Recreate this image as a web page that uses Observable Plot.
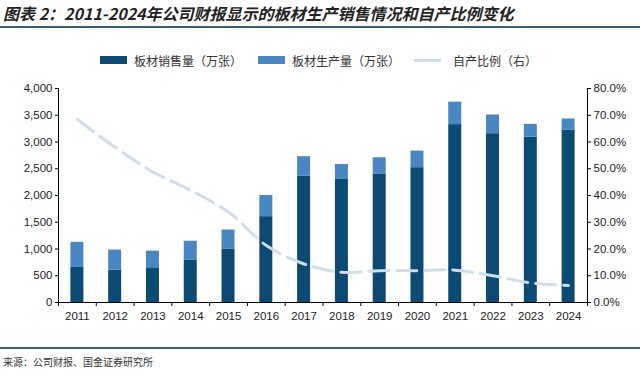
<!DOCTYPE html>
<html>
<head>
<meta charset="utf-8">
<script src="https://cdn.jsdelivr.net/npm/d3@7"></script>
<script src="https://cdn.jsdelivr.net/npm/@observablehq/plot@0.6"></script>
<style>
  html, body { margin: 0; padding: 0; background: #fff; }
  #wrap { position: relative; width: 640px; height: 379px; overflow: hidden; font-family: "Noto Sans CJK SC", sans-serif; }
  #title { position: absolute; left: 3px; top: 1px; font-size: 16px; font-weight: bold; font-style: italic; color: #222; white-space: nowrap; }
  .hr { position: absolute; left: 0; width: 640px; height: 1.5px; background: #3f5d70; }
  #legend { position: absolute; top: 51px; left: 0; width: 640px; height: 18px; font-size: 12px; color: #333; }
  .li { position: absolute; top: 0; display: flex; align-items: center; height: 18px; white-space: nowrap; }
  .sw { width: 27px; height: 8px; margin-right: 7px; }
  .ln { width: 27px; height: 3px; margin-right: 12px; background: #cfdded; }
  #chart { position: absolute; left: 0; top: 80px; }
  #source { position: absolute; left: 3px; top: 354px; font-size: 10px; color: #333; white-space: nowrap; }
</style>
</head>
<body>
<div id="wrap">
  <div id="title">图表 2：2011-2024年公司财报显示的板材生产销售情况和自产比例变化</div>
  <div class="hr" style="top:26px"></div>
  <div id="legend"></div>
  <div id="chart"></div>
  <div class="hr" style="top:347px"></div>
  <div id="source">来源：公司财报、国金证券研究所</div>
</div>
<script>
const years = [2011, 2012, 2013, 2014, 2015, 2016, 2017, 2018, 2019, 2020, 2021, 2022, 2023, 2024];
const sales = [655, 605, 635, 795, 1000, 1605, 2360, 2300, 2395, 2520, 3325, 3155, 3090, 3220];
const production = [470, 375, 325, 350, 355, 395, 365, 280, 310, 310, 420, 350, 240, 210];
const ratio = [68.4, 58.0, 48.8, 41.9, 33.8, 21.3, 14.4, 11.3, 11.9, 11.9, 12.1, 10.0, 7.3, 6.4];
const leftTicks = [0, 500, 1000, 1500, 2000, 2500, 3000, 3500, 4000];
const rightTicks = [0, 10, 20, 30, 40, 50, 60, 70, 80];
const seriesNames = ["板材销售量（万张）", "板材生产量（万张）", "自产比例（右）"];

const darkColor = "#0c4a73";
const lightColor = "#4a86c2";
const lineColor = "#cfdded";
const scaleK = 4000 / 80; // right axis (%) -> left axis units

const data = years.map((y, i) => ({year: y, sales: sales[i], production: production[i], ratio: ratio[i]}));
const half = 0.172;
const boundaries = years.map(y => y - 0.5).concat([years[years.length - 1] + 0.5]);

const chart = Plot.plot({
  width: 640,
  height: 250,
  marginLeft: 58,
  marginRight: 53,
  marginTop: 8,
  marginBottom: 28,
  style: {fontFamily: "'Liberation Sans', Arial, sans-serif", fontSize: "11.5px", color: "#222", background: "transparent"},
  x: {domain: [years[0] - 0.5, years[years.length - 1] + 0.5]},
  y: {domain: [0, 4000]},
  marks: [
    Plot.rectY(data, {x1: d => d.year - half, x2: d => d.year + half, y1: 0, y2: "sales", fill: darkColor}),
    Plot.rectY(data, {x1: d => d.year - half, x2: d => d.year + half, y1: "sales", y2: d => d.sales + d.production, fill: lightColor}),
    Plot.line(data, {x: "year", y: d => d.ratio * scaleK, curve: "catmull-rom", stroke: lineColor, strokeWidth: 3, strokeDasharray: "20,8"}),
    Plot.ruleX([years[0] - 0.5], {stroke: "#000", strokeWidth: 1}),
    Plot.ruleX([years[years.length - 1] + 0.5], {stroke: "#000", strokeWidth: 1}),
    Plot.ruleY([0], {stroke: "#000", strokeWidth: 1}),
    Plot.axisY({ticks: leftTicks, tickSize: 3, tickPadding: 3, tickFormat: d3.format(","), label: null, stroke: "#000"}),
    Plot.axisY({anchor: "right", ticks: rightTicks.map(v => v * scaleK), tickSize: 3, tickPadding: 3, tickFormat: d => (d / scaleK).toFixed(1) + "%", label: null, stroke: "#000"}),
    Plot.axisX({ticks: boundaries, tickSize: 4, tickFormat: () => "", label: null, stroke: "#000"}),
    Plot.axisX({ticks: years, tickSize: 0, tickPadding: 9, tickFormat: d => String(d), label: null})
  ]
});
document.getElementById("chart").appendChild(chart);

const legend = document.getElementById("legend");
const items = [
  {left: 100, type: "sw", color: darkColor, text: seriesNames[0]},
  {left: 258, type: "sw", color: lightColor, text: seriesNames[1]},
  {left: 414, type: "ln", color: lineColor, text: seriesNames[2]}
];
items.forEach(it => {
  const d = document.createElement("div");
  d.className = "li";
  d.style.left = it.left + "px";
  const s = document.createElement("div");
  s.className = it.type;
  s.style.background = it.color;
  d.appendChild(s);
  const t = document.createElement("span");
  t.textContent = it.text;
  d.appendChild(t);
  legend.appendChild(d);
});
</script>
</body>
</html>
